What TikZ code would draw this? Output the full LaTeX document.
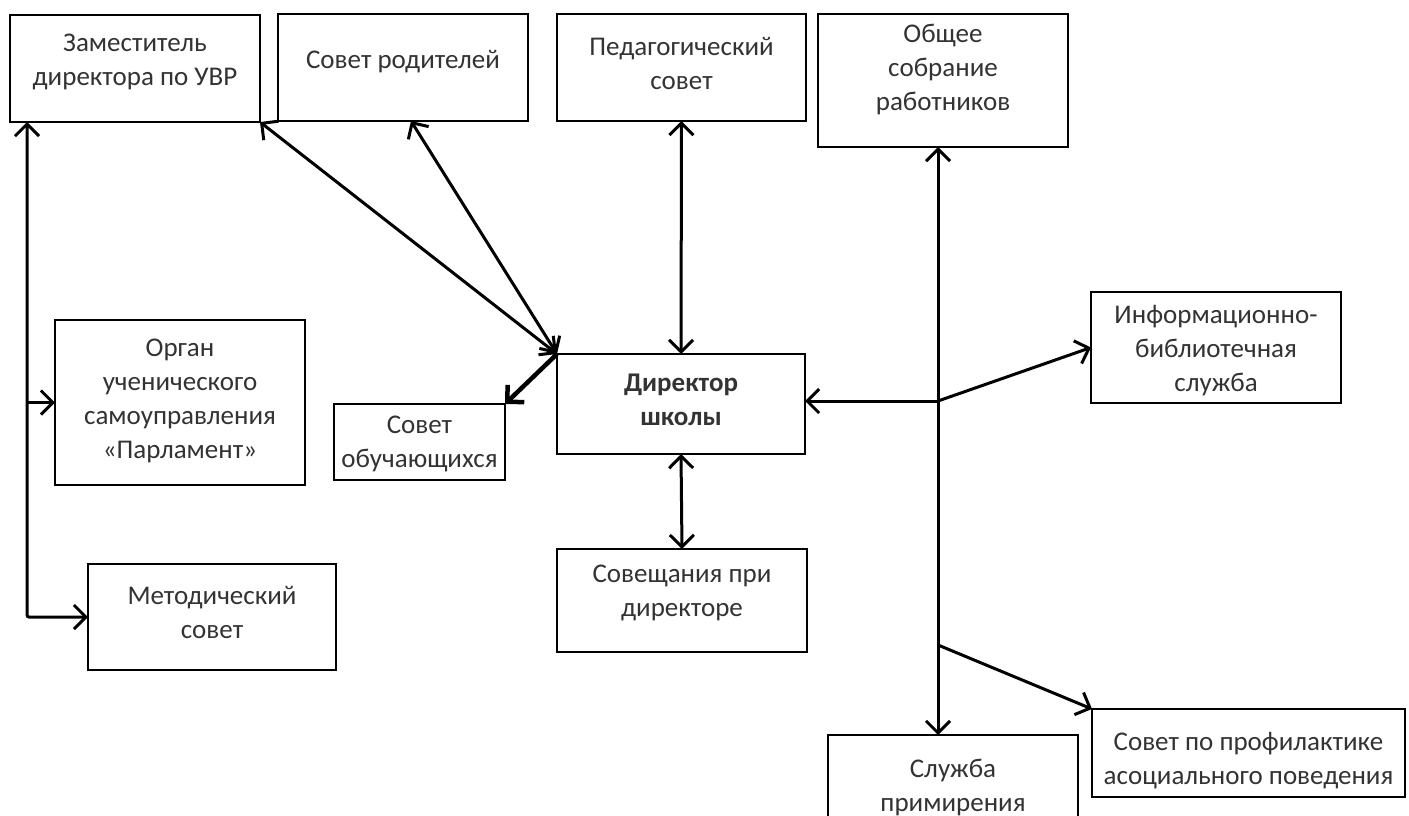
\documentclass[tikz,border=0pt]{standalone}
\usepackage{fontspec}
\setmainfont{Carlito}
\usetikzlibrary{arrows.meta}
\definecolor{txtc}{HTML}{333333}
\tikzset{
  box/.style={draw=black, line width=2pt, inner sep=0pt, outer sep=0pt, fill=none},
  txt/.style={align=center, text=txtc, font=\fontsize{27}{34}\selectfont, inner sep=0pt},
  conn/.style={line width=3pt, draw=black, arrows={-Straight Barb[length=12pt,width=24pt]}},
  conn2/.style={line width=3pt, draw=black, arrows={Straight Barb[length=12pt,width=24pt]-Straight Barb[length=12pt,width=24pt]}}
}
\begin{document}
\begin{tikzpicture}[x=1pt,y=-1pt]
\useasboundingbox[fill=white] (0,0) rectangle (1409,816);
% boxes
\node[box, minimum width=250pt, minimum height=107pt] (zam) at (135,68.5) {};
\node[box, minimum width=250pt, minimum height=107pt] (rod) at (403,67.5) {};
\node[box, minimum width=249pt, minimum height=107pt] (ped) at (681.5,67.5) {};
\node[box, minimum width=250pt, minimum height=133pt] (obs) at (943,80.5) {};
\node[box, minimum width=250pt, minimum height=111pt] (info) at (1216,347.5) {};
\node[box, minimum width=248pt, minimum height=100pt] (dir) at (681,404) {};
\node[box, minimum width=171pt, minimum height=76pt] (obuch) at (419.5,442) {};
\node[box, minimum width=250pt, minimum height=165pt] (organ) at (180,402.5) {};
\node[box, minimum width=248pt, minimum height=106pt] (metod) at (212,617) {};
\node[box, minimum width=250pt, minimum height=103pt] (sovesh) at (682,600.5) {};
\node[box, minimum width=250pt, minimum height=95pt] (sluzh) at (953,782.5) {};
\node[box, minimum width=313pt, minimum height=88pt] (prof) at (1248.5,753) {};
% texts
\node[txt] (zamt) at (135,62) {Заместитель\\директора по УВР};
\node[txt] (rodt) at (403,62) {Совет родителей};
\node[txt] (pedt) at (681.5,63) {Педагогический\\совет};
\node[txt] (obst) at (943,69) {Общее\\собрание\\работников};
\node[txt] (infot) at (1216,351) {Информационно-\\библиотечная\\служба};
\node[txt, font=\fontsize{27}{34}\selectfont\bfseries] (dirt) at (681,400) {Директор\\школы};
\node[txt] (obucht) at (419.5,444) {Совет\\обучающихся};
\node[txt] (organt) at (180,401) {Орган\\ученического\\самоуправления\\«Парламент»};
\node[txt] (metodt) at (212,612) {Методический\\совет};
\node[txt] (sovesht) at (682,593) {Совещания при\\директоре};
\node[txt] (sluzht) at (953,787) {Служба\\примирения};
\node[txt] (proft) at (1248.5,761) {Совет по профилактике\\асоциального поведения};
% coordinates
\coordinate (lv) at (27,617);
\coordinate (j1) at (938,401);
\coordinate (j2) at (938,645);
% connectors
\draw[conn2, rounded corners=2pt] (zam.south -| lv) -- (lv) -- (metod.west);
\draw[conn] (organ.west -| lv) -- (organ.west);
\draw[conn2] (dir.north west) -- (zam.south east);
\draw[conn2] (dir.north west) -- ([xshift=8pt]rod.south);
\draw[conn, line width=4.5pt] (dir.north west) -- (obuch.north east);
\draw[conn2] (ped.south) -- (dir.north);
\draw[conn2] (dir.south) -- (sovesh.north);
\draw[conn2] (obs.south -| j1) -- (sluzh.north -| j1);
\draw[conn] (j1) -- (j1 -| dir.east);
\draw[conn] (j1) -- (info.west);
\draw[conn] (j2) -- (prof.north west);
\end{tikzpicture}
\end{document}
